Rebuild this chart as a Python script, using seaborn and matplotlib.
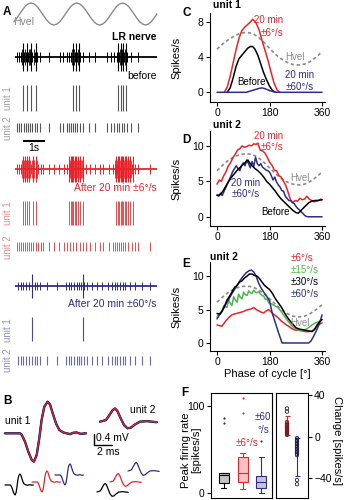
import numpy as np
import matplotlib
matplotlib.use("Agg")
import matplotlib.pyplot as plt
import seaborn as sns

# ------------------------------------------------------------------ data
# Panel A: head velocity trace (normalised) and spike times (s)
hvel_a_t = [-0.05, 0.08, 0.21, 0.34, 0.47, 0.60, 0.73, 0.86, 0.99, 1.12, 1.25, 1.38, 1.51,
            1.64, 1.77, 1.90, 2.03, 2.16, 2.29, 2.42, 2.55, 2.68, 2.81, 2.94, 3.07, 3.20,
            3.33, 3.46, 3.59, 3.72, 3.85, 3.98, 4.11, 4.24, 4.37, 4.50, 4.63, 4.76, 4.89,
            5.02, 5.15, 5.28, 5.41, 5.54, 5.67, 5.80, 5.93, 6.06, 6.19, 6.32, 6.45]
hvel_a_v = [-.71, -.38, 0, .38, .71, .92,
            1, .92, .71, .38, 0, -.38, -.71, -.92, -1, -.92, -.71, -.38, 0, .38, .71, .92,
            1, .92, .71, .38, 0, -.38, -.71, -.92, -1, -.92, -.71, -.38, 0, .38, .71, .92,
            1, .92, .71, .38, 0, -.38, -.71, -.92, -1, -.92, -.71, -.38, 0]

unit1_before = [0.36, 0.55, 0.73, 0.95, 2.64, 2.77, 2.91, 4.68, 4.82, 4.91, 5.05]
unit2_before = [0.10, 0.20, 0.29, 0.41, 0.50, 0.59, 0.68, 0.77, 0.90, 1.01, 1.14, 1.55,
                2.05, 2.17, 2.35, 2.44, 2.53, 2.62, 2.71, 2.83, 2.95, 3.08, 3.38, 3.64,
                4.20, 4.35, 4.50, 4.62, 4.74, 4.86, 4.95, 5.08, 5.26, 5.60]
burst_before = [0.32, 0.45, 0.62, 0.70, 0.85, 2.60, 2.70, 2.86, 4.66, 4.76, 4.88, 4.98]

unit1_slow = [0.35, 0.45, 0.56, 0.65, 0.83, 0.95, 2.47, 2.53, 2.59, 2.65, 2.71, 2.77, 2.86,
              2.95, 3.08, 4.59, 4.68, 4.74, 4.80, 4.86, 4.92, 4.99, 5.05, 5.14, 5.23, 5.35]
unit2_slow = [0.08, 0.17, 0.26, 0.38, 0.47, 0.56, 0.65, 0.74, 0.83, 0.95, 1.06, 1.17, 1.29,
              1.56, 1.77, 2.01, 2.23, 2.35, 2.50, 2.62, 2.77, 2.95, 3.08, 3.23, 3.41, 3.64,
              3.86, 4.01, 4.29, 4.47, 4.56, 4.65, 4.74, 4.83, 4.92, 5.01, 5.15, 5.30, 5.45,
              5.60, 6.14]
burst_slow = [0.30, 0.40, 0.50, 0.60, 0.70, 0.78, 0.88, 1.00, 2.45, 2.50, 2.56, 2.62, 2.68,
              2.74, 2.80, 2.90, 3.00, 3.05, 4.55, 4.62, 4.70, 4.78, 4.84, 4.90, 4.96, 5.02,
              5.10, 5.18, 5.28]

unit1_fast = [0.77, 3.09]
unit2_fast = [0.15, 0.26, 0.38, 0.50, 0.62, 0.76, 0.90, 1.01, 1.14, 1.44, 1.92, 2.32, 2.44,
              2.56, 2.68, 2.80, 2.92, 3.01, 3.14, 3.29, 3.49, 3.71, 3.94, 4.24, 4.40, 4.55,
              4.65, 4.77, 4.89, 5.01, 5.23, 5.45, 5.76, 6.14]

# Panel B: mean spike waveforms (ms, mV)
wf1_t = [0, 1.67, 1.85, 2.22, 2.59, 2.97, 3.22, 3.52, 3.81, 4.07, 4.37, 4.74, 5.0, 5.3,
         5.67, 6.04, 6.48, 7.22, 7.6, 7.96, 8.4, 9.0]
wf1_v = [0, 0, -0.05, -0.3, -0.67, -0.97, -1.03, -0.79, -0.18, 0.49, 0.97, 1.15, 1.05, 0.73,
         0.36, 0.12, 0.03, -0.03, 0.02, 0.03, -0.02, 0]
wf2_t = [0, 0.67, 1.04, 1.41, 1.67, 1.93, 2.3, 2.67, 3.04, 3.41, 3.89, 4.44, 5.19, 6.3]
wf2_v = [0, 0.06, 0.24, 0.42, 0.48, 0.39, 0.12, -0.12, -0.24, -0.22, -0.1, 0, 0.02, -0.02]

# Panels C-E: firing rate vs phase of cycle
hv_phase = [0, 20, 40, 60, 80, 100, 120, 140, 160, 180, 200, 220, 240, 260, 280, 300, 320, 340, 360]
hvel_c = [4.9, 5.5, 6.0, 6.4, 6.7, 6.8, 6.7, 6.3, 5.7, 5.0, 4.3, 3.8, 3.4, 3.15, 3.1, 3.2, 3.5, 4.0, 4.6]
hvel_d = [6.5, 7.3, 8.0, 8.5, 8.8, 8.9, 8.8, 8.4, 7.7, 6.9, 6.1, 5.4, 4.9, 4.6, 4.5, 4.6, 5.0, 5.6, 6.3]
hvel_e = [6.1, 6.9, 7.6, 8.1, 8.4, 8.5, 8.4, 8.0, 7.4, 6.6, 5.8, 5.0, 4.4, 4.0, 3.9, 4.0, 4.4, 5.0, 5.7]

c_slow_ph = [25, 35, 45, 55, 65, 75, 85, 95, 105, 115, 122, 128, 135, 145, 155, 165, 175, 185, 195, 205, 215]
c_slow = [0, 0.6, 1.8, 3.3, 4.8, 6.1, 7.0, 7.4, 7.7, 8.0, 8.3, 8.1, 7.8, 7.0, 5.8, 4.7, 3.6, 2.3, 1.1, 0.3, 0]
c_before_ph = [35, 45, 55, 65, 75, 85, 95, 105, 115, 122, 130, 140, 150, 160, 170, 180, 190, 200]
c_before = [0, 0.5, 1.6, 2.9, 3.8, 4.2, 4.6, 5.0, 5.2, 5.2, 4.9, 4.2, 3.2, 2.2, 1.4, 0.7, 0.2, 0]
c_fast_ph = [0, 100, 115, 130, 145, 155, 165, 180, 195, 205, 360]
c_fast = [0, 0, 0.15, 0.3, 0.45, 0.5, 0.4, 0.2, 0.05, 0, 0]

d_slow_ph = [0, 8, 15, 22, 30, 38, 46, 54, 62, 70, 78, 86, 94, 102, 110, 118, 126, 134, 140,
             148, 156, 164, 172, 180, 188, 196, 204, 212, 220, 228, 236, 244, 252, 260, 268,
             276, 284, 292, 300, 308, 316, 324, 332, 340, 348, 356, 360]
d_slow = [4.6, 5.2, 5.0, 5.7, 6.3, 7.1, 7.6, 8.3, 8.8, 9.4, 9.6, 10.0, 9.8, 9.9, 10.1, 10.0,
          10.3, 10.2, 10.4, 9.4, 9.3, 9.0, 8.4, 7.7, 7.3, 6.6, 6.5, 5.8, 5.6, 5.0, 4.4, 3.4,
          2.4, 2.0, 2.3, 2.2, 2.6, 2.4, 2.5, 2.9, 2.5, 2.3, 2.1, 2.2, 2.3, 2.5, 2.4]
d_before_ph = [0, 10, 20, 30, 40, 50, 60, 70, 80, 90, 100, 106, 112, 120, 130, 140, 150, 160,
               170, 180, 190, 200, 210, 220, 230, 240, 250, 260, 270, 278, 286, 295, 305,
               315, 325, 335, 345, 360]
d_before = [3.0, 3.1, 3.6, 4.3, 5.0, 5.6, 6.1, 6.6, 7.0, 7.4, 7.8, 8.0, 7.6, 7.2, 6.8, 6.5,
            6.1, 5.6, 5.0, 4.6, 4.1, 3.6, 3.0, 2.5, 2.1, 1.7, 1.3, 0.9, 0.6, 0.5, 0.8, 1.2,
            1.6, 2.0, 2.2, 2.3, 2.3, 2.4]
d_fast_ph = [0, 6, 12, 18, 24, 30, 36, 42, 48, 54, 60, 66, 72, 78, 84, 90, 96, 102, 108, 114,
             120, 126, 132, 138, 144, 150, 156, 162, 168, 174, 180, 186, 192, 198, 204, 210,
             216, 222, 228, 234, 240, 246, 252, 258, 264, 270, 276, 282, 288, 294, 300, 306,
             312, 360]
d_fast = [3.1, 2.9, 3.3, 3.0, 3.6, 4.1, 4.7, 5.2, 5.8, 6.4, 6.8, 7.2, 6.8, 6.5, 7.2, 7.6, 7.2,
          8.0, 7.5, 6.9, 7.8, 7.1, 8.4, 7.5, 7.2, 7.5, 7.0, 6.8, 6.6, 6.5, 6.3, 5.8, 5.2, 5.6,
          4.9, 4.5, 4.2, 3.7, 3.6, 2.9, 2.6, 2.3, 2.3, 2.0, 1.9, 1.5, 1.2, 1.0, 0.7, 0.5, 0.2,
          0.05, 0, 0]

e_6_ph = [0, 8, 17, 25, 34, 43, 51, 57, 66, 74, 83, 91, 100, 109, 117, 126, 134, 143, 151,
          160, 169, 177, 186, 194, 203, 211, 220, 229, 237, 246, 254, 263, 271, 280, 291, 303,
          314, 326, 334, 343, 351, 360]
e_6 = [2.7, 2.6, 2.5, 3.0, 3.5, 3.9, 4.2, 4.3, 4.4, 4.5, 4.6, 4.7, 4.9, 5.0, 5.1, 5.3, 5.0,
       4.8, 4.6, 4.5, 4.8, 5.0, 4.6, 4.3, 4.0, 3.7, 3.3, 3.0, 2.7, 2.5, 2.2, 2.0, 1.9, 1.9,
       1.8, 1.7, 1.7, 1.8, 2.1, 2.5, 2.8, 3.0]
e_15_ph = [0, 8, 17, 23, 29, 34, 40, 46, 51, 57, 63, 69, 74, 80, 86, 91, 97, 103, 109, 114,
           120, 126, 131, 137, 143, 149, 154, 160, 166, 171, 177, 183, 189, 200, 211, 223, 234,
           246, 257, 269, 280, 291, 303, 314, 326, 337, 349, 360]
e_15 = [3.9, 4.4, 4.7, 5.6, 5.4, 5.3, 6.4, 5.9, 5.6, 6.9, 6.4, 6.1, 7.3, 6.8, 6.6, 7.6, 7.2,
        7.1, 7.8, 7.5, 7.4, 7.9, 7.6, 7.5, 7.7, 7.3, 7.1, 7.0, 6.5, 6.6, 6.0, 5.9, 5.8, 5.5,
        5.2, 4.5, 3.8, 3.1, 2.5, 2.1, 1.9, 1.9, 2.0, 2.3, 2.7, 3.0, 3.2, 3.5]
e_30_ph = [0, 10, 17, 25, 34, 43, 51, 60, 69, 77, 86, 94, 103, 111, 120, 128, 137, 146, 154,
           163, 171, 180, 190, 200, 210, 220, 230, 240, 250, 260, 270, 280, 291, 303, 314, 326,
           334, 343, 351, 360]
e_30 = [4.4, 4.3, 4.7, 5.4, 6.4, 7.0, 7.6, 8.3, 8.6, 9.1, 9.3, 9.7, 10.0, 10.3, 10.3, 10.1,
        10.0, 9.6, 9.1, 8.6, 8.3, 8.0, 7.4, 6.6, 6.0, 5.4, 4.6, 3.9, 3.3, 2.8, 2.3, 2.1, 2.0,
        1.9, 1.8, 1.7, 2.0, 2.7, 3.1, 3.5]
e_60_ph = [0, 10, 20, 30, 40, 50, 60, 70, 80, 90, 100, 110, 118, 126, 134, 142, 150, 160, 170,
           180, 189, 200, 211, 223, 240, 300, 314, 322, 331, 340, 350, 360]
e_60 = [3.6, 4.3, 5.0, 5.8, 6.5, 7.3, 8.0, 8.7, 9.4, 10.0, 10.5, 10.8, 10.9, 10.6, 10.0, 9.0,
        8.3, 7.6, 7.0, 6.3, 4.5, 3.0, 1.5, 0, 0, 0, 0, 0.3, 1.0, 1.8, 2.8, 4.2]

# Panel F: peak firing rate box statistics and change per cell
box_groups = ["before", "6", "60"]
box_med = [20.5, 23.3, 12.3]
box_q1 = [11.5, 13.0, 5.4]
box_q3 = [23.0, 42.0, 20.0]
box_lo = [6.0, 4.6, 0.3]
box_hi = [23.0, 46.0, 42.0]
box_fliers = [[81, 86], [92, 109], [60]]

chg_slow = [2, 3, 4, 5, 6, 7, 8, 9, 10, 11, 12, 13, 14.5]
chg_slow_range = [2, 20]
chg_slow_out = [24.5, 27.5]
chg_fast = [-1, -2.5, -4, -5.5, -7, -8.5, -10, -11.5, -13, -14.5, -16, -17.5]
chg_fast_range = [-38, -1]
chg_fast_out = [-41.5, -45.5]

# ------------------------------------------------------------------ style
sns.set_theme(style="white")
plt.rcParams["font.family"] = ["Liberation Sans", "DejaVu Sans"]
plt.rcParams.update({
    "axes.edgecolor": "black", "text.color": "black", "axes.labelcolor": "black",
    "xtick.color": "black", "ytick.color": "black", "xtick.bottom": True,
    "ytick.left": True, "axes.linewidth": 0.8,
})

RED = "#e8242b"
BLUE = "#2e2d88"
GREEN = "#4cb748"
GRAY = "#8a8a8a"

W, H = 344, 500
fig = plt.figure(figsize=(W / 100, H / 100), dpi=100)


def rect(x0, y0, x1, y1):
    return [x0 / W, 1 - y1 / H, (x1 - x0) / W, (y1 - y0) / H]


def ftxt(x, y, s, **kw):
    kw.setdefault("va", "center")
    kw.setdefault("ha", "left")
    kw.setdefault("fontsize", 7)
    fig.text(x / W, 1 - y / H, s, **kw)


# ------------------------------------------------------------------ panel A
axA = fig.add_axes(rect(0, 0, 165, 395))
axA.set_xlim(-15 / 22, 150 / 22)
axA.set_ylim(395, 0)
axA.axis("off")

axA.plot(hvel_a_t, 14 - 11 * np.array(hvel_a_v), color=GRAY, lw=1.0)


def nerve(y0, u1, u2, extra, col, big, mid, ext):
    axA.hlines(y0, 0, 6.45, color=col, lw=1.3)
    axA.vlines(u2, y0 - mid, y0 + mid, color=col, lw=0.7)
    axA.vlines(extra, y0 - ext, y0 + ext, color=col, lw=0.6)
    axA.vlines(u1, y0 - big, y0 + big, color=col, lw=0.8)


nerve(57, unit1_before, unit2_before, burst_before, "black", 14, 5, 8)
axA.vlines(unit1_before, 85, 111, color="#555555", lw=0.8)
axA.vlines(unit2_before, 123, 132, color="#555555", lw=0.8)
axA.hlines(141, 0.35, 1.35, color="black", lw=1.5)

nerve(169, unit1_slow, unit2_slow, burst_slow, RED, 13, 5, 9)
axA.vlines(unit1_slow, 201, 225, color="#ee4a4a", lw=0.7)
axA.vlines(unit2_slow, 242, 251, color="#ee4a4a", lw=0.7)

nerve(286, unit1_fast, unit2_fast, [], BLUE, 12, 4, 6)
axA.vlines(unit1_fast, 317, 341, color="#4a4a9a", lw=0.8)
axA.vlines(unit2_fast, 356, 365, color="#6a6ab0", lw=0.8)

ftxt(3, 12, "A", fontweight="bold", fontsize=8.5)
ftxt(13, 22, "Hvel", color=GRAY, fontsize=7.5)
ftxt(157, 37, "LR nerve", ha="right", fontweight="bold", fontsize=7.5)
ftxt(157, 76, "before", ha="right", fontsize=7.5)
ftxt(34, 148, "1s", ha="center", fontsize=7.5)
ftxt(157, 188, "After 20 min \u00b16\u00b0/s", ha="right", color=RED, fontsize=7.5)
ftxt(157, 304, "After 20 min \u00b160\u00b0/s", ha="right", color=BLUE, fontsize=7.5)
for (yy, lab, cc) in [(98, "unit 1", "#a0a0a0"), (128, "unit 2", "#a0a0a0"),
                      (213, "unit 1", "#f08a8a"), (247, "unit 2", "#f08a8a"),
                      (330, "unit 1", "#9090c8"), (360, "unit 2", "#9090c8")]:
    ftxt(8, yy, lab, ha="center", rotation=90, color=cc, fontsize=7)

# ------------------------------------------------------------------ panel B
axB = fig.add_axes(rect(0, 395, 165, 500))
axB.set_xlim(0, 165 / 9)
axB.set_ylim(-105 / 27.5, 0)
axB.axis("off")
t1 = np.array(wf1_t)
v1 = np.array(wf1_v)
t2 = np.array(wf2_t)
v2 = np.array(wf2_v)

for col, lw in [("black", 1.7), (BLUE, 1.3), (RED, 0.8)]:
    axB.plot(5 / 9 + t1, -1.393 + v1, color=col, lw=lw, alpha=0.9)
    axB.plot(100 / 9 + t2, -0.97 + v2, color=col, lw=lw, alpha=0.9)

for col, x0, y0 in [("black", 5, 485), (RED, 32, 482), (BLUE, 55, 475)]:
    axB.plot(x0 / 9 + 0.35 * t1, -(y0 - 395) / 27.5 + 0.35 * v1, color=col, lw=0.9)
for col, x0, y0 in [("black", 97, 492), (RED, 110, 482), (BLUE, 128, 471)]:
    axB.plot(x0 / 9 + 0.55 * t2, -(y0 - 395) / 27.5 + 0.65 * v2, color=col, lw=0.9)

axB.plot([94 / 9, 94 / 9, 94 / 9 + 2], [-(434 - 395) / 27.5, -(445 - 395) / 27.5,
                                          -(445 - 395) / 27.5], color="black", lw=1.0)
ftxt(3, 401, "B", fontweight="bold", fontsize=8.5)
ftxt(5, 421, "unit 1", fontsize=7.5)
ftxt(130, 410, "unit 2", fontsize=7.5)
ftxt(96, 438, "0.4 mV", fontsize=7.5)
ftxt(97, 452, "2 ms", fontsize=7.5)

# ------------------------------------------------------------------ panels C-E


def phase_axes(y0, y1, ylim, yticks):
    ax = fig.add_axes(rect(210, y0, 325, y1))
    ax.set_xlim(-24, 370)
    ax.set_ylim(*ylim)
    ax.set_xticks([0, 180, 360])
    ax.set_yticks(yticks)
    sns.despine(ax=ax)
    ax.tick_params(length=3, width=0.8, labelsize=7.5, pad=1.5)
    ax.set_ylabel("Spikes/s", fontsize=8)
    ax.yaxis.set_label_coords(-0.245, 0.5)
    return ax


def curve(ax, x, y, col, **kw):
    sns.lineplot(x=x, y=y, ax=ax, color=col, lw=kw.pop("lw", 1.1), legend=False, **kw)


axC = phase_axes(13, 102, (-1.1, 9.0), [0, 4, 8])
curve(axC, hv_phase, hvel_c, GRAY, linestyle=(0, (2, 1.6)), lw=1.2)
curve(axC, c_slow_ph, c_slow, RED)
curve(axC, c_before_ph, c_before, "black")
curve(axC, c_fast_ph, c_fast, BLUE)
axC.set_xlabel("")
ftxt(182, 13, "C", fontweight="bold", fontsize=8.5)
ftxt(213, 5, "unit 1", fontweight="bold", fontsize=7.5)
ftxt(283, 20, "20 min", ha="right", color=RED)
ftxt(283, 33, "\u00b16\u00b0/s", ha="right", color=RED)
ftxt(285, 57, "Hvel", color=GRAY)
ftxt(300, 75, "20 min", ha="center", color=BLUE)
ftxt(300, 87, "\u00b160\u00b0/s", ha="center", color=BLUE)
ftxt(251, 82, "Before", ha="center")

axD = phase_axes(131, 226, (-1.3, 12.1), [0, 5, 10])
curve(axD, hv_phase, hvel_d, GRAY, linestyle=(0, (2, 1.6)), lw=1.2)
curve(axD, d_slow_ph, d_slow, RED)
curve(axD, d_fast_ph, d_fast, BLUE)
curve(axD, d_before_ph, d_before, "black")
axD.set_xlabel("")
ftxt(182, 140, "D", fontweight="bold", fontsize=8.5)
ftxt(213, 125, "unit 2", fontweight="bold", fontsize=7.5)
ftxt(283, 136, "20 min", ha="right", color=RED)
ftxt(283, 147, "\u00b16\u00b0/s", ha="right", color=RED)
ftxt(290, 178, "Hvel", color=GRAY)
ftxt(246, 183, "20 min", ha="center", color=BLUE)
ftxt(246, 194, "\u00b160\u00b0/s", ha="center", color=BLUE)
ftxt(275, 212, "Before", ha="center")

axE = phase_axes(262, 351, (-1.2, 12.1), [0, 5, 10])
curve(axE, hv_phase, hvel_e, GRAY, linestyle=(0, (2, 1.6)), lw=1.2)
curve(axE, e_6_ph, e_6, RED)
curve(axE, e_15_ph, e_15, GREEN)
curve(axE, e_60_ph, e_60, BLUE)
curve(axE, e_30_ph, e_30, "black")
axE.set_xlabel("Phase of cycle [\u00b0]", fontsize=8, labelpad=1)
ftxt(182, 264, "E", fontweight="bold", fontsize=8.5)
ftxt(210, 257, "unit 2", fontweight="bold", fontsize=7.5)
for yy, lab, cc in [(258, "\u00b16\u00b0/s", RED), (270, "\u00b115\u00b0/s", GREEN),
                    (282, "\u00b130\u00b0/s", "black"), (294, "\u00b160\u00b0/s", BLUE)]:
    ftxt(291, yy, lab, color=cc)
ftxt(290, 323, "Hvel", color=GRAY)

# ------------------------------------------------------------------ panel F
axF = fig.add_axes(rect(211, 393, 272, 498))
stats = []
for i, g in enumerate(box_groups):
    stats.append(dict(label=g, med=box_med[i], q1=box_q1[i], q3=box_q3[i],
                      whislo=box_lo[i], whishi=box_hi[i], fliers=box_fliers[i]))
bp = axF.bxp(stats, positions=[0, 1, 2], widths=0.54, patch_artist=True,
             flierprops=dict(marker="o", ms=1.6, markeredgewidth=0))
edge = ["black", RED, BLUE]
fill = ["#c4c4c4", "#f7c2c2", "#c4c4dc"]
for i in range(3):
    bp["boxes"][i].set(facecolor=fill[i], edgecolor=edge[i], lw=0.8)
    bp["medians"][i].set(color=edge[i], lw=0.8)
    bp["fliers"][i].set(markerfacecolor=edge[i] if i else "#333333")
    for j in (2 * i, 2 * i + 1):
        bp["whiskers"][j].set(color=edge[i], lw=0.8)
        bp["caps"][j].set(color=edge[i], lw=0.8)
axF.set_xlim(-0.7, 2.59)
axF.set_ylim(-5.7, 115)
axF.set_xticks([])
axF.set_yticks([0, 100])
axF.tick_params(axis="y", length=3, width=0.8, labelsize=7.5, pad=1.5)
for s in axF.spines.values():
    s.set_visible(True)
    s.set_linewidth(0.8)
ftxt(191, 450, "Peak firing rate\n[spikes/s]", ha="center", rotation=90, fontsize=8,
     linespacing=1.0)
ftxt(247, 443, "\u00b16\u00b0/s", ha="center", color=RED)
ftxt(263, 417, "\u00b160", ha="center", color=BLUE)
ftxt(263, 430, "\u00b0/s", ha="center", color=BLUE)
ftxt(181, 393, "F", fontweight="bold", fontsize=8.5)

ax2 = fig.add_axes(rect(276, 393, 308, 498))
ax2.set_xlim(-1.1, 2.1)
ax2.set_ylim(-58.8, 42.4)
for s in ax2.spines.values():
    s.set_visible(True)
    s.set_linewidth(0.8)
ax2.set_xticks([])
ax2.yaxis.tick_right()
ax2.set_yticks([-40, 0, 40])
ax2.tick_params(axis="y", length=3, width=0.8, labelsize=7.5, pad=1.5, left=False, right=True)
for xpos, rng, pts, outs, col, dark in [(0, chg_slow_range, chg_slow, chg_slow_out, RED, "#7a1515"),
                                        (1, chg_fast_range, chg_fast, chg_fast_out, BLUE, "#1a1a44")]:
    ax2.vlines(xpos, rng[0], rng[1], color=col, lw=0.8)
    ax2.hlines(rng, xpos - 0.25, xpos + 0.25, color=col, lw=0.8)
    ax2.scatter([xpos] * len(pts), pts, s=6, facecolor="none", edgecolor=dark, lw=0.6, zorder=3)
    ax2.scatter([xpos] * len(outs), outs, s=6, facecolor="none", edgecolor="#222222", lw=0.6,
                zorder=3)
ftxt(337, 440, "Change [spikes/s]", ha="center", rotation=270, fontsize=8)

fig.savefig("out.png", dpi=100)
